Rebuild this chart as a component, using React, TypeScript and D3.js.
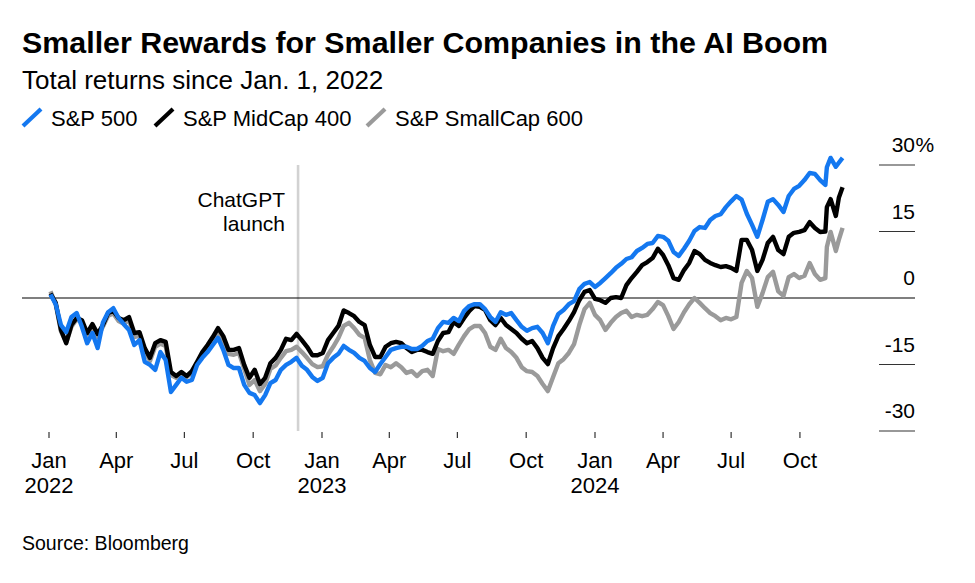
import React from "react";
import * as d3 from "d3";

// Weekly observation dates (plus a few key trading days)
const dates = [
  "2022-01-03","2022-01-10","2022-01-17","2022-01-24","2022-01-31",
  "2022-02-07","2022-02-14","2022-02-21","2022-02-28",
  "2022-03-07","2022-03-14","2022-03-21","2022-03-28",
  "2022-04-04","2022-04-11","2022-04-18","2022-04-25",
  "2022-05-02","2022-05-09","2022-05-16","2022-05-23","2022-05-30",
  "2022-06-06","2022-06-13","2022-06-20","2022-06-27",
  "2022-07-04","2022-07-11","2022-07-18","2022-07-25",
  "2022-08-01","2022-08-08","2022-08-15","2022-08-22","2022-08-29",
  "2022-09-05","2022-09-12","2022-09-19","2022-09-26",
  "2022-10-03","2022-10-10","2022-10-17","2022-10-24","2022-10-31",
  "2022-11-07","2022-11-14","2022-11-21","2022-11-28",
  "2022-12-05","2022-12-12","2022-12-19","2022-12-26",
  "2023-01-02","2023-01-09","2023-01-16","2023-01-23","2023-01-30",
  "2023-02-06","2023-02-13","2023-02-20","2023-02-27",
  "2023-03-06","2023-03-13","2023-03-20","2023-03-27",
  "2023-04-03","2023-04-10","2023-04-17","2023-04-24",
  "2023-05-01","2023-05-08","2023-05-15","2023-05-22","2023-05-29",
  "2023-06-05","2023-06-12","2023-06-19","2023-06-26",
  "2023-07-03","2023-07-10","2023-07-17","2023-07-24","2023-07-31",
  "2023-08-07","2023-08-14","2023-08-21","2023-08-28",
  "2023-09-04","2023-09-11","2023-09-18","2023-09-25",
  "2023-10-02","2023-10-09","2023-10-16","2023-10-23","2023-10-30",
  "2023-11-06","2023-11-13","2023-11-20","2023-11-27",
  "2023-12-04","2023-12-11","2023-12-18","2023-12-25",
  "2024-01-01","2024-01-08","2024-01-15","2024-01-22","2024-01-29",
  "2024-02-05","2024-02-12","2024-02-19","2024-02-26",
  "2024-03-04","2024-03-11","2024-03-18","2024-03-25",
  "2024-04-01","2024-04-08","2024-04-15","2024-04-22","2024-04-29",
  "2024-05-06","2024-05-13","2024-05-20","2024-05-27",
  "2024-06-03","2024-06-10","2024-06-17","2024-06-24",
  "2024-07-01","2024-07-08","2024-07-15","2024-07-22","2024-07-29",
  "2024-08-05","2024-08-12","2024-08-19","2024-08-26",
  "2024-09-02","2024-09-09","2024-09-16","2024-09-23","2024-09-30",
  "2024-10-07","2024-10-14","2024-10-21","2024-10-28",
  "2024-11-04","2024-11-06","2024-11-11","2024-11-18","2024-11-22","2024-11-27",
];

// Total return since Jan. 1, 2022 (%)
const sp500 = [
  0.8, -1.4, -6.1, -7.7, -4.3,
  -3.4, -6.5, -10.2, -7.9,
  -11.3, -5.6, -3.2, -2.3,
  -4.5, -5.9, -7.2, -10.6,
  -9.5, -14.4, -15.1, -16.2, -12.2,
  -14.0, -21.2, -19.6, -18.0,
  -18.9, -18.5, -15.1, -13.5,
  -12.2, -10.6, -9.0, -11.7, -15.1,
  -15.8, -15.8, -19.6, -21.4,
  -21.9, -23.7, -21.9, -19.2, -18.5,
  -16.2, -15.1, -14.4, -13.5,
  -15.3, -16.2, -17.8, -18.7,
  -18.0, -14.7, -13.5, -12.6, -10.8,
  -11.7, -12.4, -13.5, -14.2,
  -15.8, -16.7, -14.9, -13.3,
  -11.7, -11.3, -11.0, -11.0,
  -11.5, -11.5, -10.8, -9.7, -9.2,
  -6.8, -5.4, -5.6, -4.5,
  -5.2, -2.9, -1.8, -1.4, -1.4,
  -2.5, -4.3, -5.4, -3.2,
  -3.8, -3.4, -5.0, -6.5,
  -7.4, -6.8, -6.5, -7.9, -10.2,
  -6.3, -3.6, -2.7, -1.4,
  -0.7, 2.0, 3.2, 3.6,
  2.5, 3.4, 4.5, 5.6, 6.8,
  7.7, 8.8, 9.2, 10.6,
  11.3, 12.2, 12.4, 14.0,
  13.8, 12.9, 10.4, 9.5, 11.1,
  12.9, 15.1, 16.0, 15.8,
  17.6, 18.5, 18.9, 20.5,
  21.8, 23.0, 22.2, 19.0, 16.5,
  13.8, 17.6, 21.7, 22.3,
  21.0, 19.4, 23.0, 24.6, 25.3,
  26.6, 28.2, 28.0, 26.6,
  25.5, 29.5, 31.6, 29.6, 30.5, 31.6,
];

const midcap400 = [
  1.0, -1.1, -7.2, -10.2, -6.1,
  -4.5, -5.0, -7.9, -5.9,
  -8.1, -6.1, -3.4, -2.9,
  -4.5, -5.0, -4.3, -7.9,
  -7.7, -11.3, -13.5, -10.2, -9.5,
  -9.9, -16.7, -17.6, -16.7,
  -17.6, -16.5, -14.4, -12.2,
  -10.6, -8.8, -6.8, -8.6, -11.7,
  -11.7, -11.3, -15.1, -18.0,
  -16.2, -19.4, -18.0, -14.7, -13.5,
  -11.7, -9.2, -9.5, -8.1,
  -9.5, -11.0, -12.9, -12.9,
  -12.4, -9.5, -7.9, -6.3, -2.8,
  -3.4, -4.1, -5.4, -6.1,
  -10.6, -13.3, -13.3, -11.0,
  -10.2, -9.9, -10.2, -11.3,
  -12.2, -11.7, -11.7, -12.2, -12.6,
  -9.7, -7.9, -7.7, -5.4,
  -6.3, -4.5, -2.9, -1.8, -2.0,
  -2.7, -5.0, -6.1, -4.5,
  -6.1, -7.0, -7.9, -9.2,
  -10.2, -9.7, -11.3, -13.5, -14.9,
  -11.3, -8.6, -7.0, -5.2,
  -3.2, -0.5, 1.4, 1.8,
  -0.2, -0.5, -1.1, 0.0, 0.2,
  0.0, 2.9, 4.5, 5.9,
  7.4, 8.1, 9.0, 11.1,
  9.7, 7.4, 4.5, 4.1, 6.3,
  7.9, 10.6, 9.9, 8.6,
  7.9, 7.4, 7.0, 7.2,
  6.8, 6.1, 13.1, 13.1, 10.8,
  6.1, 8.6, 12.4, 13.8,
  10.8, 9.9, 13.8, 14.7, 14.9,
  15.3, 17.1, 15.8, 14.9,
  15.0, 20.5, 22.3, 18.5, 22.6, 25.0,
];

const smallcap600 = [
  1.5, -1.5, -7.5, -10.0, -6.5,
  -4.8, -5.5, -8.3, -6.3,
  -8.8, -6.5, -4.0, -3.5,
  -5.2, -5.8, -5.0, -8.8,
  -8.5, -12.0, -14.2, -11.0, -10.3,
  -10.8, -17.4, -18.0, -17.0,
  -17.8, -16.9, -14.8, -12.8,
  -11.2, -9.5, -7.5, -9.5, -12.6,
  -12.8, -12.4, -16.0, -19.6,
  -18.5, -21.0, -19.4, -16.0, -15.2,
  -13.5, -12.0, -11.7, -11.0,
  -12.2, -13.5, -14.9, -15.6,
  -15.4, -12.8, -11.0, -9.0, -6.3,
  -5.6, -6.8, -8.3, -9.0,
  -14.0, -16.9, -17.2, -15.1,
  -15.6, -14.7, -15.6, -16.9,
  -16.5, -17.6, -16.5, -16.2, -17.6,
  -11.5, -12.0, -11.7, -12.6,
  -10.5, -8.6, -7.0, -6.3, -6.3,
  -7.9, -11.0, -11.7, -9.2,
  -11.3, -12.2, -13.5, -15.6,
  -16.5, -16.7, -17.6, -19.4, -21.0,
  -17.8, -14.7, -13.8, -12.4,
  -10.4, -6.1, -2.5, -1.1,
  -3.8, -5.0, -7.2, -5.6, -4.3,
  -3.4, -2.9, -4.3, -3.8,
  -4.1, -3.8, -2.5, -0.9,
  -1.6, -4.1, -7.0, -5.4, -3.2,
  -1.4, 0.0, -1.1, -2.3,
  -3.4, -4.1, -5.0, -4.5,
  -4.8, -4.3, 3.4, 6.1, 4.5,
  -2.0, 1.1, 4.7, 5.9,
  1.5, 0.5, 4.7, 5.4, 4.5,
  5.0, 7.9, 5.4, 4.1,
  4.5, 11.5, 14.9, 10.6, 13.1, 15.8,
];

const seriesNames = ["S&P 500", "S&P MidCap 400", "S&P SmallCap 600"];
const seriesColors = ["#1478f0", "#000000", "#9a9a9a"];
const yTicks = [-30, -15, 0, 15, 30];
const eventDate = "2022-11-30";
const eventLabel = ["ChatGPT", "launch"];

const FONT = "'Liberation Sans', Arial, Helvetica, sans-serif";

export default function App() {
  const parse = d3.utcParse("%Y-%m-%d");
  const x = d3
    .scaleUtc()
    .domain([parse("2022-01-01") as Date, parse("2024-01-01") as Date])
    .range([49, 595]);
  const y = d3.scaleLinear().domain([-30, 30]).range([431, 165]);

  const parsed = dates.map((d) => parse(d) as Date);
  const allSeries = [sp500, midcap400, smallcap600];
  const line = d3
    .line<number>()
    .x((_, i) => x(parsed[i]))
    .y((v) => y(v));

  const xTicks = d3.utcMonth.every(3)!.range(parse("2022-01-01") as Date, parse("2024-11-02") as Date);
  const fmtMonth = d3.utcFormat("%b");
  const fmtYear = d3.utcFormat("%Y");
  const ex = x(parse(eventDate) as Date);

  const legendX = [23, 155, 367];

  return (
    <svg
      width={975}
      height={583}
      style={{ position: "absolute", left: 0, top: 0, background: "#fff" }}
      fontFamily={FONT}
    >
      <rect width={975} height={583} fill="#fff" />
      <text x={22} y={53} fontSize={30.4} fontWeight={700} fill="#000">
        Smaller Rewards for Smaller Companies in the AI Boom
      </text>
      <text x={22} y={89} fontSize={26} fill="#000">
        Total returns since Jan. 1, 2022
      </text>

      {seriesNames.map((name, i) => (
        <g key={name}>
          <line
            x1={legendX[i]}
            y1={126}
            x2={legendX[i] + 18}
            y2={109}
            stroke={seriesColors[i]}
            strokeWidth={4.2}
          />
          <text x={legendX[i] + 28} y={126} fontSize={22} fill="#000">
            {name}
          </text>
        </g>
      ))}

      {/* ChatGPT launch marker */}
      <line x1={ex} x2={ex} y1={y(30)} y2={y(-30)} stroke="#d2d2d2" strokeWidth={2.6} />
      <text x={285} y={207} fontSize={21} textAnchor="end" fill="#000">
        {eventLabel[0]}
      </text>
      <text x={285} y={231} fontSize={21} textAnchor="end" fill="#000">
        {eventLabel[1]}
      </text>

      {/* zero line */}
      <line x1={22} x2={915} y1={y(0)} y2={y(0)} stroke="#000" strokeWidth={1.2} />

      {/* y axis */}
      {yTicks.map((t) => (
        <g key={t}>
          {t !== 0 && (
            <line x1={879} x2={915} y1={y(t)} y2={y(t)} stroke="#333" strokeWidth={1.2} />
          )}
          <text x={915} y={y(t) - 13} fontSize={21} textAnchor="end" fill="#000">
            {t}
          </text>
          {t === 30 && (
            <text x={915.5} y={y(t) - 13} fontSize={21} fill="#000">
              %
            </text>
          )}
        </g>
      ))}

      {/* x axis */}
      {xTicks.map((d) => {
        const px = x(d);
        const isJan = d.getUTCMonth() === 0;
        return (
          <g key={d.toISOString()}>
            <line x1={px} x2={px} y1={432} y2={438} stroke="#333" strokeWidth={1.2} />
            <text x={px} y={468} fontSize={22} textAnchor="middle" fill="#000">
              {fmtMonth(d)}
            </text>
            {isJan && (
              <text x={px} y={493} fontSize={22} textAnchor="middle" fill="#000">
                {fmtYear(d)}
              </text>
            )}
          </g>
        );
      })}

      {/* series: gray bottom, black, blue top */}
      {[2, 1, 0].map((si) => (
        <path
          key={si}
          d={line(allSeries[si]) || ""}
          fill="none"
          stroke={seriesColors[si]}
          strokeWidth={4.4}
          strokeLinejoin="round"
          strokeLinecap="butt"
        />
      ))}

      <text x={22} y={550} fontSize={19.5} fill="#000">
        Source: Bloomberg
      </text>
    </svg>
  );
}
